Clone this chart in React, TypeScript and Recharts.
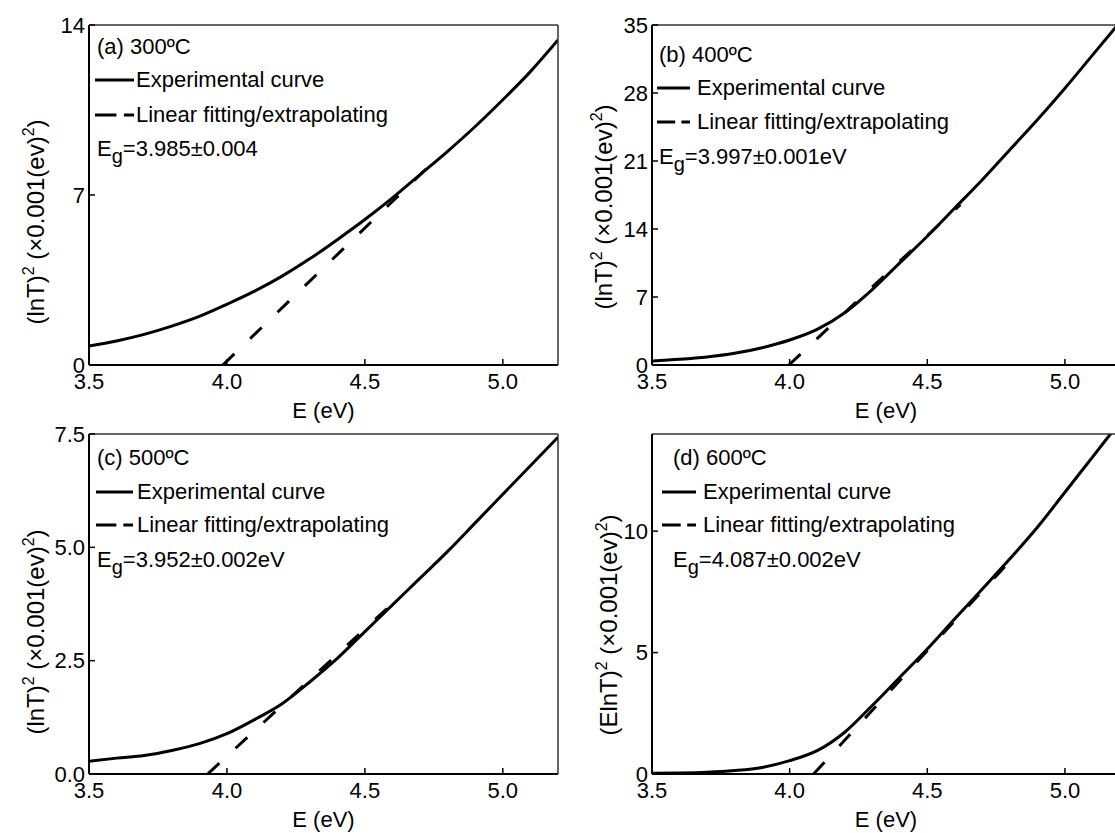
import React from 'react';
import { LineChart, Line, XAxis, YAxis, Legend, Label } from 'recharts';

const FONT = '"Liberation Sans", Arial, sans-serif';

// Photon energy grid (eV)
const energies = [3.5, 3.6, 3.7, 3.8, 3.9, 4.0, 4.1, 4.2, 4.3, 4.4, 4.5, 4.6, 4.7, 4.8, 4.9, 5.0, 5.1, 5.2];

// Experimental curves (×0.001 (eV)²)
const curveA = [0.78, 0.99, 1.26, 1.6, 2.0, 2.5, 3.04, 3.66, 4.37, 5.16, 5.99, 6.88, 7.84, 8.8, 9.82, 10.92, 12.08, 13.38];
const curveB = [0.41, 0.58, 0.82, 1.2, 1.78, 2.57, 3.66, 5.38, 7.77, 10.51, 13.25, 16.16, 19.07, 22.16, 25.24, 28.49, 31.9, 35.3];
const curveC = [0.28, 0.35, 0.41, 0.52, 0.67, 0.89, 1.2, 1.55, 2.03, 2.55, 3.14, 3.73, 4.32, 4.91, 5.54, 6.17, 6.8, 7.43];
const curveD = [0.03, 0.04, 0.07, 0.14, 0.27, 0.55, 0.96, 1.72, 2.82, 3.98, 5.15, 6.39, 7.62, 8.86, 10.16, 11.6, 13.05, 14.5];

// Linear fitting / extrapolating lines (endpoints)
const fitEA = [3.985, 4.75];
const fitVA = [0, 8.38];
const fitEB = [3.997, 4.62];
const fitVB = [0, 16.5];
const fitEC = [3.93, 4.6];
const fitVC = [0, 3.76];
const fitED = [4.087, 4.8];
const fitVD = [0, 8.77];

// Ticks
const xMajor = [3.5, 4.0, 4.5, 5.0];
const xMinor = [3.6, 3.7, 3.8, 3.9, 4.1, 4.2, 4.3, 4.4, 4.6, 4.7, 4.8, 4.9, 5.1, 5.2];
const yMajorA = [0, 7, 14];
const yMinorA = [1.4, 2.8, 4.2, 5.6, 8.4, 9.8, 11.2, 12.6];
const yMajorB = [0, 7, 14, 21, 28, 35];
const yMinorB = [2.333, 4.667, 9.333, 11.667, 16.333, 18.667, 23.333, 25.667, 30.333, 32.667];
const yMajorC = [0, 2.5, 5.0, 7.5];
const yMinorC = [0.5, 1, 1.5, 2, 3, 3.5, 4, 4.5, 5.5, 6, 6.5, 7];
const yMajorD = [0, 5, 10];
const yMinorD = [1, 2, 3, 4, 6, 7, 8, 9, 11, 12, 13, 14];

const titles = ['(a) 300ºC', '(b) 400ºC', '(c) 500ºC', '(d) 600ºC'];
const egValues = ['=3.985±0.004', '=3.997±0.001eV', '=3.952±0.002eV', '=4.087±0.002eV'];
const seriesNames = ['Experimental curve', 'Linear fitting/extrapolating'];

type Cfg = {
  left: number; top: number; width: number; height: number;
  margin: { top: number; right: number; bottom: number; left: number };
  xAxisH: number; yAxisW: number;
  curve: number[]; fitE: number[]; fitV: number[];
  yDomain: [number, number]; yMajor: number[]; yMinor: number[]; yFmt: (v: number) => string;
  title: string; eg: string; yPrefix: string;
  titleBaseDx: number; titleDy: number;
  leg: { top: number; rows: number[]; titleX: number; lineX: number; textX: number; egX: number; lineLen: number };
};

function YTitle(props: any) {
  const { viewBox, prefix, dx, dy } = props;
  const bx = viewBox.x + viewBox.width - dx;
  const cy = viewBox.y + viewBox.height / 2 + dy;
  return (
    <text x={bx} y={cy} transform={`rotate(-90 ${bx} ${cy})`} textAnchor="middle" fontFamily={FONT} fontSize={24} fill="#000">
      <tspan>{prefix}</tspan>
      <tspan dy={-10} fontSize={16}>2</tspan>
      <tspan dy={10}> (×0.001(ev)</tspan>
      <tspan dy={-10} fontSize={16}>2</tspan>
      <tspan dy={10}>)</tspan>
    </text>
  );
}

function makeLegend(cfg: Cfg) {
  return (props: any) => {
    const items = [...(props.payload || [])].sort(
      (a: any, b: any) => (a.payload?.strokeDasharray ? 1 : 0) - (b.payload?.strokeDasharray ? 1 : 0)
    );
    const L = cfg.leg;
    const rowStyle = (t: number): React.CSSProperties => ({
      position: 'absolute', top: t, height: 26, lineHeight: '26px', whiteSpace: 'nowrap',
      fontFamily: FONT, fontSize: 22, color: '#000',
    });
    return (
      <div style={{ position: 'relative', width: 1, height: 1 }}>
        <div style={{ ...rowStyle(L.top + L.rows[0]), left: L.titleX }}>{cfg.title}</div>
        {items.map((it: any, i: number) => {
          const dashed = !!it.payload?.strokeDasharray;
          return (
            <React.Fragment key={i}>
              <svg style={{ position: 'absolute', left: L.lineX, top: L.top + L.rows[i + 1] }} width={L.lineLen} height={26}>
                {dashed ? (
                  <g>
                    <line x1={0} y1={13} x2={L.lineLen * 0.55} y2={13} stroke="#000" strokeWidth={3} />
                    <line x1={L.lineLen * 0.74} y1={13} x2={L.lineLen} y2={13} stroke="#000" strokeWidth={3} />
                  </g>
                ) : (
                  <line x1={0} y1={13} x2={L.lineLen} y2={13} stroke="#000" strokeWidth={3} />
                )}
              </svg>
              <div style={{ ...rowStyle(L.top + L.rows[i + 1]), left: L.textX }}>{it.value}</div>
            </React.Fragment>
          );
        })}
        <div style={{ ...rowStyle(L.top + L.rows[3]), left: L.egX }}>
          E<span style={{ fontSize: 20, position: 'relative', top: 7 }}>g</span>{cfg.eg}
        </div>
      </div>
    );
  };
}

function Panel({ cfg }: { cfg: Cfg }) {
  const curveData = energies.map((e, i) => ({ x: e, y: cfg.curve[i] }));
  const fitData = cfg.fitE.map((e, i) => ({ x: e, y: cfg.fitV[i] }));
  const axisStroke = { stroke: '#000', strokeWidth: 2 };
  const tickStyle = { fill: '#000', fontSize: 22, fontFamily: FONT };
  return (
    <div style={{ position: 'absolute', left: cfg.left, top: cfg.top }}>
      <LineChart width={cfg.width} height={cfg.height} margin={cfg.margin}>
        <XAxis xAxisId="main" dataKey="x" type="number" domain={[3.5, 5.2]} allowDataOverflow ticks={xMajor} interval={0}
          tickFormatter={(v: number) => v.toFixed(1)} height={cfg.xAxisH} tickSize={-6} tickMargin={14}
          axisLine={axisStroke} tickLine={{ stroke: '#000', strokeWidth: 1.5 }} tick={tickStyle}>
          <Label value="E (eV)" position="bottom" offset={37 - cfg.xAxisH} fill="#000" fontSize={22} fontFamily={FONT} />
        </XAxis>
        <XAxis xAxisId="minor" dataKey="x" type="number" domain={[3.5, 5.2]} allowDataOverflow ticks={xMinor} interval={0}
          mirror height={4} tickSize={4} tick={false} axisLine={false} tickLine={{ stroke: '#000', strokeWidth: 1.5 }} />
        <XAxis xAxisId="top" orientation="top" dataKey="x" type="number" domain={[3.5, 5.2]} allowDataOverflow
          mirror height={2} tick={false} tickLine={false} axisLine={{ stroke: '#333', strokeWidth: 1.5 }} />
        <YAxis yAxisId="main" type="number" domain={cfg.yDomain} allowDataOverflow ticks={cfg.yMajor} interval={0}
          tickFormatter={cfg.yFmt} width={cfg.yAxisW} tickSize={-6} tickMargin={10}
          axisLine={axisStroke} tickLine={{ stroke: '#000', strokeWidth: 1.5 }} tick={tickStyle}>
          <Label content={(p: any) => <YTitle viewBox={p.viewBox} prefix={cfg.yPrefix} dx={cfg.titleBaseDx} dy={cfg.titleDy} />} />
        </YAxis>
        <YAxis yAxisId="minor" type="number" domain={cfg.yDomain} allowDataOverflow ticks={cfg.yMinor} interval={0}
          mirror width={4} tickSize={4} tick={false} axisLine={false} tickLine={{ stroke: '#000', strokeWidth: 1.5 }} />
        <YAxis yAxisId="right" orientation="right" type="number" domain={cfg.yDomain} allowDataOverflow
          mirror width={2} tick={false} tickLine={false} axisLine={{ stroke: '#333', strokeWidth: 1.5 }} />
        <Legend layout="horizontal" verticalAlign="middle" align="center" content={makeLegend(cfg)}
          wrapperStyle={{ left: 0, top: 0, width: 1, height: 1 }} />
        <Line xAxisId="main" yAxisId="main" data={fitData} dataKey="y" name={seriesNames[1]} type="linear"
          stroke="#000" strokeWidth={3} strokeDasharray="16 22" dot={false} activeDot={false} isAnimationActive={false} />
        <Line xAxisId="main" yAxisId="main" data={curveData} dataKey="y" name={seriesNames[0]} type="monotone"
          stroke="#000" strokeWidth={3} dot={false} activeDot={false} isAnimationActive={false} />
      </LineChart>
    </div>
  );
}

const intFmt = (v: number) => String(v);
const oneDec = (v: number) => v.toFixed(1);

const panels: Cfg[] = [
  {
    left: 0, top: 0, width: 570, height: 432, margin: { top: 25, right: 12, bottom: 0, left: 0 }, xAxisH: 67, yAxisW: 89,
    curve: curveA, fitE: fitEA, fitV: fitVA, yDomain: [0, 14], yMajor: yMajorA, yMinor: yMinorA, yFmt: intFmt,
    title: titles[0], eg: egValues[0], yPrefix: '(lnT)', titleBaseDx: 45, titleDy: 27,
    leg: { top: 34, rows: [0, 33, 68, 102], titleX: 97, lineX: 95, textX: 136, egX: 97, lineLen: 39 },
  },
  {
    left: 560, top: 0, width: 580, height: 432, margin: { top: 25, right: 20, bottom: 0, left: 0 }, xAxisH: 67, yAxisW: 92,
    curve: curveB, fitE: fitEB, fitV: fitVB, yDomain: [0, 35], yMajor: yMajorB, yMinor: yMinorB, yFmt: intFmt,
    title: titles[1], eg: egValues[1], yPrefix: '(lnT)', titleBaseDx: 40, titleDy: 12,
    leg: { top: 42, rows: [0, 33, 67, 102], titleX: 99, lineX: 97, textX: 137, egX: 99, lineLen: 33 },
  },
  {
    left: 0, top: 410, width: 570, height: 423, margin: { top: 24, right: 12, bottom: 0, left: 0 }, xAxisH: 59, yAxisW: 89,
    curve: curveC, fitE: fitEC, fitV: fitVC, yDomain: [0, 7.5], yMajor: yMajorC, yMinor: yMinorC, yFmt: oneDec,
    title: titles[2], eg: egValues[2], yPrefix: '(lnT)', titleBaseDx: 45, titleDy: 28,
    leg: { top: 35, rows: [0, 34, 67, 102], titleX: 97, lineX: 96, textX: 137, egX: 97, lineLen: 37 },
  },
  {
    left: 560, top: 410, width: 580, height: 423, margin: { top: 24, right: 20, bottom: 0, left: 0 }, xAxisH: 59, yAxisW: 92,
    curve: curveD, fitE: fitED, fitV: fitVD, yDomain: [0, 14], yMajor: yMajorD, yMinor: yMinorD, yFmt: intFmt,
    title: titles[3], eg: egValues[3], yPrefix: '(ElnT)', titleBaseDx: 35, titleDy: 21,
    leg: { top: 35, rows: [0, 34, 67, 102], titleX: 113, lineX: 102, textX: 143, egX: 113, lineLen: 34 },
  },
];

export default function App() {
  return (
    <div style={{ position: 'absolute', left: 0, top: 0, width: 1115, height: 833, overflow: 'hidden', background: '#fff', fontFamily: FONT }}>
      {panels.map((p, i) => (
        <Panel key={i} cfg={p} />
      ))}
    </div>
  );
}
